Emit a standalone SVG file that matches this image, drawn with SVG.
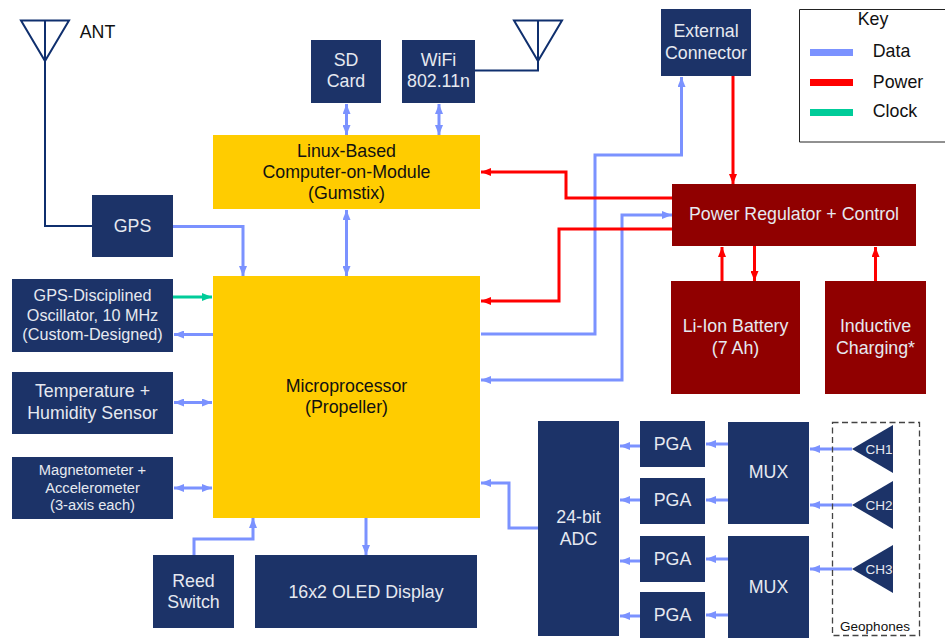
<svg xmlns="http://www.w3.org/2000/svg" width="945" height="639" viewBox="0 0 945 639">
<style>
text{font-family:"Liberation Sans",Arial,sans-serif;text-anchor:middle}
.n{fill:#1c3368}.y{fill:#ffcc00}.r{fill:#900000}
.w{fill:#e6e9f0;font-size:17.800px}.b{fill:#111;font-size:17.800px}
.d,.p,.c,.a{fill:none;stroke-linejoin:miter}
.d{stroke:#7b92ff;stroke-width:3}.p{stroke:#ff0000;stroke-width:3}.c{stroke:#00cc99;stroke-width:3}.a{stroke:#0f2f6e;stroke-width:2}
.ds{marker-end:url(#md)}.de{marker-start:url(#mds)}.ps{marker-end:url(#mp)}.cs{marker-end:url(#mc)}
</style>
<defs>
<marker id="md" markerUnits="userSpaceOnUse" markerWidth="11" markerHeight="8" refX="10" refY="4" orient="auto"><path d="M0 0L10 4L0 8z" fill="#7b92ff"/></marker>
<marker id="mds" markerUnits="userSpaceOnUse" markerWidth="11" markerHeight="8" refX="0" refY="4" orient="auto"><path d="M10 0L0 4L10 8z" fill="#7b92ff"/></marker>
<marker id="mp" markerUnits="userSpaceOnUse" markerWidth="11" markerHeight="8" refX="10" refY="4" orient="auto"><path d="M0 0L10 4L0 8z" fill="#ff0000"/></marker>
<marker id="mc" markerUnits="userSpaceOnUse" markerWidth="11" markerHeight="8" refX="10" refY="4" orient="auto"><path d="M0 0L10 4L0 8z" fill="#00cc99"/></marker>
</defs>
<g id="connectors">
<path class="a" d="M45 61V226H93M475 70.500H538V61"/>
<path class="d ds" d="M172 226.500H243V276"/>
<path class="c cs" d="M173 297H212"/>
<path class="d ds" d="M213 334.500H174"/>
<path class="d ds de" d="M174 402.500H212"/>
<path class="d ds de" d="M174 488H212"/>
<path class="d ds" d="M194 555V539H253V518"/>
<path class="d ds" d="M366 518V555"/>
<path class="d ds de" d="M346.500 104V135"/>
<path class="d ds de" d="M439 104V135"/>
<path class="d ds de" d="M346.500 210V276"/>
<path class="d ds" d="M481 334H595V155H681.500V77"/>
<path class="d ds de" d="M481 380H622V215H672"/>
<path class="p ps" d="M672 198H566V172H481"/>
<path class="p ps" d="M672 229H559V301H481"/>
<path class="p ps" d="M733 76V184"/>
<path class="p ps" d="M722 281V247"/>
<path class="p ps" d="M754.500 246V281"/>
<path class="p ps" d="M875.500 281V247"/>
<path class="d ds" d="M538 528H509V483H481"/>
<path class="d ds" d="M640 446H620"/>
<path class="d ds" d="M640 500H620"/>
<path class="d ds" d="M640 561H620"/>
<path class="d ds" d="M640 616H620"/>
<path class="d ds" d="M728 444H706"/>
<path class="d ds" d="M728 500H706"/>
<path class="d ds" d="M728 559H706"/>
<path class="d ds" d="M728 615H706"/>
<path class="d ds" d="M852 449H810"/>
<path class="d ds" d="M852 505H810"/>
<path class="d ds" d="M852 569H810"/>
</g>
<g id="ant1"><path class="a" d="M21 20.500H69L45 61ZM45 20.500V61"/><text x="97.500" y="38" class="b">ANT</text></g>
<g id="ant2"><path class="a" d="M514 20.500H562L538 61ZM538 20.500V61"/></g>
<g id="gps"><rect class="n" x="92" y="195" width="81" height="62"/><text x="132.500" y="232" class="w">GPS</text></g>
<g id="osc"><rect class="n" x="12" y="279" width="161" height="73"/><text class="w" style="font-size:16.200px"><tspan x="92.500" y="301">GPS-Disciplined</tspan><tspan x="92.500" y="321">Oscillator, 10 MHz</tspan><tspan x="92.500" y="340">(Custom-Designed)</tspan></text></g>
<g id="temp"><rect class="n" x="12" y="372" width="161" height="62"/><text class="w"><tspan x="92.500" y="397">Temperature +</tspan><tspan x="92.500" y="419">Humidity Sensor</tspan></text></g>
<g id="mag"><rect class="n" x="12" y="457" width="161" height="62"/><text class="w" style="font-size:14.700px"><tspan x="92.500" y="475">Magnetometer +</tspan><tspan x="92.500" y="493">Accelerometer</tspan><tspan x="92.500" y="510">(3-axis each)</tspan></text></g>
<g id="reed"><rect class="n" x="153" y="555" width="81" height="73"/><text class="w"><tspan x="193.500" y="587">Reed</tspan><tspan x="193.500" y="608">Switch</tspan></text></g>
<g id="oled"><rect class="n" x="255" y="555" width="222" height="73"/><text x="366" y="598" class="w">16x2 OLED Display</text></g>
<g id="micro"><rect class="y" x="213" y="276" width="267" height="242"/><text class="b"><tspan x="346.500" y="392">Microprocessor</tspan><tspan x="346.500" y="413">(Propeller)</tspan></text></g>
<g id="linux"><rect class="y" x="213" y="135" width="267" height="74"/><text class="b"><tspan x="346.500" y="157">Linux-Based</tspan><tspan x="346.500" y="178">Computer-on-Module</tspan><tspan x="346.500" y="199">(Gumstix)</tspan></text></g>
<g id="sd"><rect class="n" x="311" y="40" width="70" height="63"/><text class="w"><tspan x="346" y="66">SD</tspan><tspan x="346" y="87">Card</tspan></text></g>
<g id="wifi"><rect class="n" x="402" y="40" width="73" height="63"/><text class="w"><tspan x="438.500" y="66">WiFi</tspan><tspan x="438.500" y="87">802.11n</tspan></text></g>
<g id="ext"><rect class="n" x="661" y="9" width="90" height="67"/><text class="w"><tspan x="706" y="37">External</tspan><tspan x="706" y="59">Connector</tspan></text></g>
<g id="reg"><rect class="r" x="672" y="184" width="244" height="62"/><text x="794" y="220" class="w">Power Regulator + Control</text></g>
<g id="bat"><rect class="r" x="671" y="281" width="129" height="113"/><text class="w"><tspan x="735.500" y="332">Li-Ion Battery</tspan><tspan x="735.500" y="354">(7 Ah)</tspan></text></g>
<g id="ind"><rect class="r" x="825" y="281" width="101" height="113"/><text class="w"><tspan x="875.500" y="332">Inductive</tspan><tspan x="875.500" y="354">Charging*</tspan></text></g>
<g id="adc"><rect class="n" x="538" y="421" width="81" height="215"/><text class="w"><tspan x="578.500" y="523">24-bit</tspan><tspan x="578.500" y="545">ADC</tspan></text></g>
<g id="pga1"><rect class="n" x="640" y="421" width="65" height="46"/><text x="672.500" y="450" class="w">PGA</text></g>
<g id="pga2"><rect class="n" x="640" y="478" width="65" height="46"/><text x="672.500" y="506" class="w">PGA</text></g>
<g id="pga3"><rect class="n" x="640" y="536" width="65" height="46"/><text x="672.500" y="565" class="w">PGA</text></g>
<g id="pga4"><rect class="n" x="640" y="592" width="65" height="46"/><text x="672.500" y="621" class="w">PGA</text></g>
<g id="mux1"><rect class="n" x="728" y="422" width="81" height="102"/><text x="768.500" y="478" class="w">MUX</text></g>
<g id="mux2"><rect class="n" x="728" y="536" width="81" height="102"/><text x="768.500" y="593" class="w">MUX</text></g>
<g id="geophones"><rect x="832.500" y="422.500" width="87" height="213" fill="none" stroke="#444" stroke-width="1.300" stroke-dasharray="6 3.500"/><text x="875" y="631" fill="#111" style="font-size:13.500px">Geophones</text></g>
<g id="ch1"><path class="n" d="M852 449L893 425V473Z"/><text x="879" y="454" class="w" style="font-size:13.500px">CH1</text></g>
<g id="ch2"><path class="n" d="M852 505L893 481V529Z"/><text x="879" y="510" class="w" style="font-size:13.500px">CH2</text></g>
<g id="ch3"><path class="n" d="M852 569L893 545V593Z"/><text x="879" y="574" class="w" style="font-size:13.500px">CH3</text></g>
<g id="key"><path d="M946 9.500H799.500V142H946" fill="none" stroke="#222" stroke-width="1"/><text x="873" y="25" class="b">Key</text>
<rect x="810" y="49" width="43" height="7" fill="#7b92ff"/><rect x="810" y="79" width="43" height="7" fill="#ff0000"/><rect x="810" y="109" width="43" height="7" fill="#00cc99"/>
<text x="891.500" y="57" class="b">Data</text><text x="898" y="88" class="b">Power</text><text x="895" y="117" class="b">Clock</text></g>
</svg>
